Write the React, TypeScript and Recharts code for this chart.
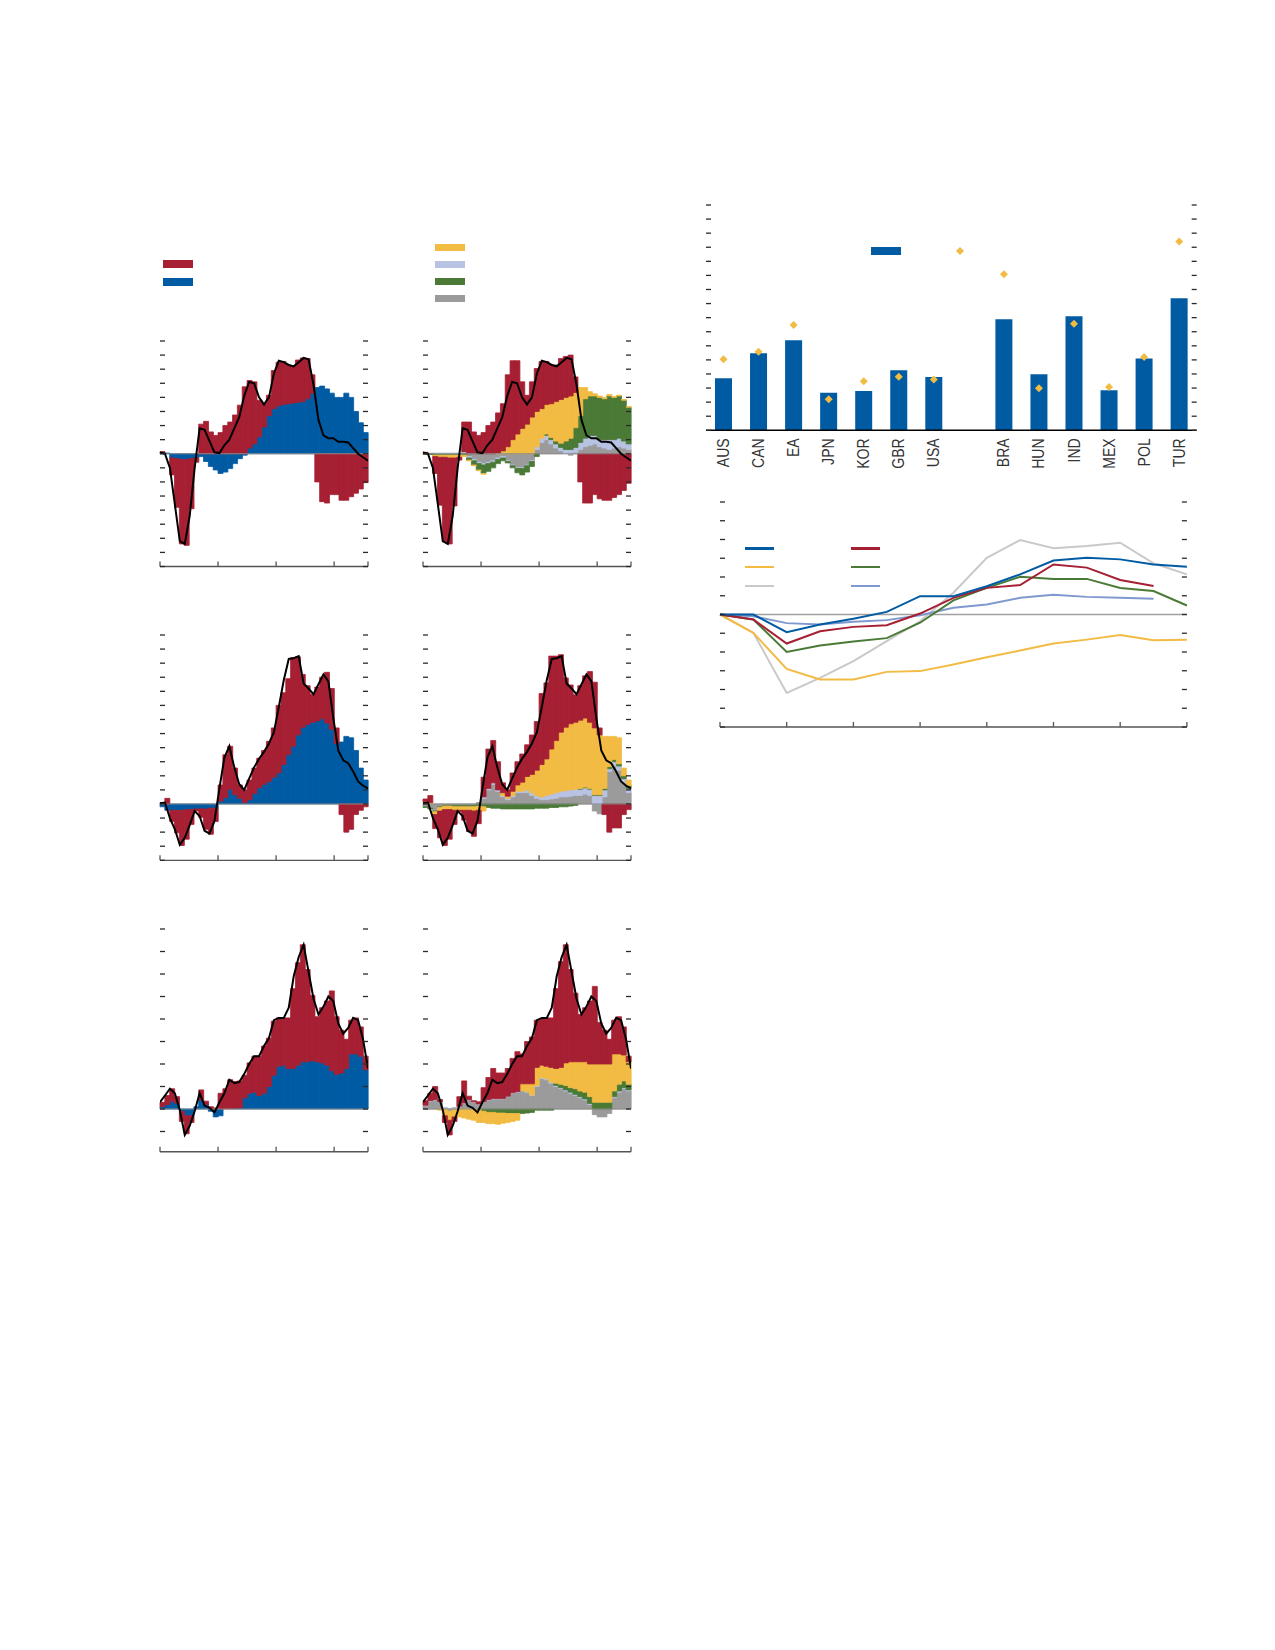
import React from 'react';
import { ComposedChart, LineChart, Bar, Line, XAxis, YAxis, ReferenceLine } from 'recharts';

// ---------- colours ----------
const RED = '#A61F32';
const BLUE = '#005BA3';
const YELLOW = '#F2BB43';
const LAV = '#B8C2E2';
const GREEN = '#4A7A36';
const GRAY = '#9B9B9B';
const LGRAY = '#C9C9C9';
const LBLUE = '#7F98CE';

// ---------- small multiples: monthly contributions (43 months) ----------
const YEAR_BOUNDARIES = [0, 12, 24, 36, 43]; // month boundaries where the x-axis ticks sit
const TICKS_TOP = [-8, -7, -6, -5, -4, -3, -2, -1, 0, 1, 2, 3, 4, 5, 6, 7, 8];
const TICKS_MID = [-4, -3, -2, -1, 0, 1, 2, 3, 4, 5, 6, 7, 8, 9, 10, 11, 12];
const TICKS_BOT = [-1, 0, 1, 2, 3, 4, 5, 6, 7, 8];

// row 1
const A_RED = [0.05, 0.0, -1.2, -3.45, -6.0, -6.1, -3.55, -0.3, 2.1, 2.3, 1.55, 1.3, 1.5, 2.0, 2.25, 2.75, 3.45, 4.75, 4.8, 4.4, 2.6, 1.65, 1.45, 2.7, 3.1, 3.05, 2.75, 2.6, 3.0, 3.1, 2.85, 1.3, -2.0, -3.4, -3.5, -2.9, -2.9, -3.3, -3.3, -3.05, -2.8, -2.5, -2.05];
const A_BLUE = [0.1, 0.05, -0.3, -0.35, -0.4, -0.4, -0.35, -0.3, -0.2, -0.55, -0.9, -1.15, -1.4, -1.3, -1.05, -0.7, -0.35, -0.1, 0.4, 0.7, 1.2, 1.9, 2.7, 3.2, 3.4, 3.5, 3.55, 3.6, 3.65, 3.7, 3.9, 4.3, 4.7, 4.8, 4.6, 4.3, 4.0, 4.0, 4.3, 4.0, 3.0, 2.2, 1.5];
const A_LINE = [0.1, 0.0, -1.0, -3.6, -6.2, -6.4, -4.4, -1.0, 1.8, 1.7, 0.9, 0.1, 0.05, 0.6, 1.0, 1.8, 2.6, 4.1, 5.1, 5.0, 4.0, 3.5, 4.0, 5.7, 6.6, 6.5, 6.3, 6.2, 6.5, 6.8, 6.7, 4.9, 2.4, 1.3, 1.1, 1.1, 0.85, 0.85, 0.8, 0.4, 0.0, -0.25, -0.5];

const B_RED = [0.05, 0.0, -1.2, -3.4, -6.0, -6.1, -3.4, -0.2, 2.1, 2.25, 1.55, 1.3, 1.5, 2.0, 2.25, 2.85, 3.35, 5.1, 5.6, 5.2, 3.3, 2.05, 2.5, 3.05, 3.35, 3.05, 2.75, 2.6, 2.9, 2.9, 2.9, 1.1, -2.0, -3.5, -3.5, -2.9, -3.2, -3.3, -3.3, -3.1, -2.9, -2.6, -2.1];
const B_YELLOW = [0, 0, -0.1, -0.15, -0.15, -0.2, -0.2, -0.15, -0.1, -0.05, -0.05, -0.05, -0.05, 0, 0, 0.05, 0.2, 0.5, 1.0, 1.4, 1.8, 2.1, 2.6, 2.5, 2.1, 2.1, 2.4, 2.8, 3.1, 3.1, 3.0, 2.5, 2.0, 0.8, 0.3, 0.15, 0.1, 0.1, 0.1, 0.05, 0.05, 0.05, 0.05];
const B_LAV = [0.05, 0.05, 0.05, 0.05, 0.05, 0.05, 0.05, 0.05, 0.05, -0.1, -0.1, -0.1, -0.1, -0.1, -0.1, -0.1, -0.1, -0.05, -0.05, -0.05, -0.05, -0.05, -0.05, 0.2, 0.3, 0.3, 0.3, 0.3, 0.25, 0.3, 0.3, 0.35, 0.5, 0.6, 0.7, 0.6, 0.5, 0.6, 0.7, 0.6, 0.6, 0.5, 0.4];
const B_GREEN = [-0.05, -0.05, -0.05, -0.05, -0.05, -0.05, -0.05, -0.05, -0.1, -0.15, -0.3, -0.45, -0.6, -0.55, -0.4, -0.3, -0.2, -0.1, -0.15, -0.3, -0.45, -0.45, -0.35, -0.2, 0.0, 0.1, 0.15, 0.2, 0.3, 0.6, 0.8, 1.4, 1.9, 2.8, 2.8, 2.8, 3.0, 2.9, 3.1, 3.0, 3.0, 2.9, 2.6];
const B_GRAY = [0, 0, -0.05, -0.05, -0.05, -0.05, -0.05, -0.05, 0.1, -0.2, -0.4, -0.6, -0.7, -0.6, -0.5, -0.3, -0.2, -0.5, -0.8, -1.0, -1.0, -0.8, -0.5, 0.3, 0.8, 1.0, 0.7, 0.4, 0.2, 0.0, -0.1, 0.1, 0.3, 0.5, 0.6, 0.7, 0.5, 0.4, 0.3, 0.4, 0.5, 0.4, 0.3];

// row 2
const C_RED = [0.1, 0.4, -0.8, -1.6, -2.5, -2.1, -1.05, -0.15, -0.6, -1.45, -1.85, -0.95, 1.15, 3.05, 3.05, 1.9, 0.95, 0.9, 1.4, 1.8, 2.1, 2.4, 2.85, 3.5, 4.8, 5.1, 5.4, 6.3, 5.55, 3.75, 2.75, 2.0, 2.4, 2.95, 3.6, 2.9, 1.1, -0.75, -2.0, -1.8, -0.75, -0.45, -0.2];
const C_BLUE = [-0.2, -0.45, -0.45, -0.45, -0.45, -0.4, -0.4, -0.35, -0.35, -0.35, -0.3, -0.3, 0.2, 0.45, 1.05, 0.65, 0.4, 0.1, 0.3, 0.75, 1.15, 1.4, 1.6, 1.9, 2.2, 2.8, 3.5, 4.1, 4.9, 5.45, 5.65, 5.8, 5.9, 6.05, 5.75, 5.3, 4.3, 4.4, 4.8, 4.7, 3.8, 2.55, 1.7];
const C_LINE = [0.05, 0.1, -1.0, -1.8, -2.9, -2.4, -1.5, -0.5, -0.85, -1.9, -2.1, -1.2, 1.1, 3.3, 4.1, 2.6, 1.4, 1.0, 1.8, 2.6, 3.2, 3.7, 4.3, 5.1, 6.9, 8.8, 10.3, 10.35, 10.5, 8.55, 8.2, 7.8, 8.5, 9.2, 8.7, 6.1, 3.8, 3.1, 2.9, 2.3, 1.6, 1.3, 1.1];

const D_RED = [0.2, 0.5, -1.0, -1.9, -2.55, -2.1, -1.0, -0.1, -0.7, -1.5, -1.8, -0.95, 1.4, 2.8, 3.0, 2.0, 0.7, 0.45, 1.3, 1.65, 2.0, 2.25, 2.8, 3.45, 5.05, 5.4, 6.6, 6.0, 5.5, 3.5, 2.75, 1.95, 2.45, 3.0, 3.6, 3.25, 0.5, -0.75, -2.0, -1.7, -1.7, -0.75, -0.4];
const D_YELLOW = [0.15, 0.1, -0.2, -0.25, -0.25, -0.25, -0.25, -0.25, -0.25, -0.25, -0.3, -0.3, -0.3, 0.0, 0.0, 0.0, 0.2, 0.15, 0.3, 0.45, 0.65, 0.95, 1.3, 1.8, 2.3, 2.6, 3.2, 3.7, 4.2, 4.5, 4.7, 4.75, 4.85, 4.9, 4.7, 4.75, 4.25, 3.7, 2.15, 1.65, 1.85, 0.55, 0.4];
const D_LAV = [0, 0, 0, 0, 0, 0, 0, 0, 0, 0, 0, 0, 0.1, 0.1, 0.1, 0.1, 0.1, 0.1, 0.1, 0.1, 0.1, 0.2, 0.2, 0.2, 0.2, 0.3, 0.35, 0.4, 0.4, 0.45, 0.45, 0.45, 0.45, 0.45, 0.45, 0.6, 0.6, 0.5, 0.2, 0.3, 0.3, 0.3, 0.3];
const D_GREEN = [-0.05, -0.05, -0.05, -0.05, -0.05, -0.05, -0.1, -0.1, -0.1, -0.1, -0.1, -0.15, -0.2, -0.25, -0.3, -0.3, -0.35, -0.35, -0.35, -0.35, -0.35, -0.35, -0.35, -0.3, -0.3, -0.3, -0.25, -0.25, -0.2, -0.2, -0.15, -0.1, 0.05, 0.05, 0.05, 0.05, 0.05, 0.1, 0.15, 0.15, 0.15, 0.2, 0.2];
const D_GRAY = [-0.2, -0.3, -0.5, -0.2, -0.1, -0.1, -0.1, -0.1, -0.1, -0.1, -0.1, 0.1, 0.4, 1.0, 1.4, 0.9, 0.5, 0.3, 0.5, 0.8, 0.8, 0.8, 0.6, 0.4, 0.3, 0.3, 0.35, 0.4, 0.5, 0.5, 0.55, 0.6, 0.6, 0.7, 0.6, -0.5, -0.7, 0.5, 2.3, 2.7, 2.4, 1.5, 0.8];

// row 3
const E_RED = [0.2, 0.4, 0.55, 0.3, -0.45, -0.8, -0.3, 0.0, 0.45, 0.15, 0.1, 0.05, 0.7, 0.9, 1.3, 1.2, 1.2, 1.0, 1.35, 1.6, 1.75, 2.1, 2.15, 2.4, 2.15, 2.1, 2.25, 3.55, 4.55, 5.2, 4.1, 2.9, 2.0, 2.45, 2.85, 3.55, 2.55, 1.9, 1.3, 1.5, 1.6, 1.3, 0.6];
const E_BLUE = [0.1, 0.2, 0.35, 0.25, -0.1, -0.3, -0.3, 0.1, 0.4, 0.2, -0.1, -0.35, -0.3, 0.0, 0.0, 0.02, 0.05, 0.5, 0.7, 0.75, 0.6, 0.7, 1.0, 1.5, 1.9, 1.95, 1.8, 1.8, 1.95, 2.1, 2.1, 2.15, 2.1, 2.05, 1.95, 1.7, 1.55, 1.6, 1.8, 2.45, 2.45, 2.35, 1.75];
const E_LINE = [0.3, 0.6, 0.9, 0.7, -0.05, -1.15, -0.75, -0.1, 0.7, 0.15, 0.05, -0.15, 0.3, 0.7, 1.3, 1.15, 1.2, 1.55, 2.0, 2.35, 2.35, 2.8, 3.15, 3.95, 4.05, 4.05, 4.5, 5.9, 6.75, 7.3, 6.1, 4.9, 4.2, 4.55, 5.0, 4.8, 3.8, 3.35, 3.6, 4.05, 3.95, 3.1, 1.8];

const F_RED = [0.2, 0.33, 0.58, 0.1, -0.3, -0.65, -0.2, 0.43, 0.98, 0.15, 0.05, 0.1, 0.63, 0.98, 1.33, 1.13, 1.13, 1.23, 1.53, 1.78, 1.33, 1.88, 2.08, 2.1, 2.05, 2.15, 2.2, 3.55, 4.7, 5.25, 4.1, 3.05, 2.1, 2.4, 2.8, 3.45, 1.85, 1.5, 1.1, 1.5, 1.65, 1.25, 0.25];
const F_YELLOW = [0, 0, 0, -0.05, -0.3, -0.4, -0.35, -0.35, -0.4, -0.45, -0.5, -0.55, -0.5, -0.5, -0.5, -0.5, -0.45, -0.4, -0.35, -0.3, 0.3, 0.35, 0.5, 0.8, 0.55, 0.55, 0.65, 0.65, 0.75, 1.0, 1.15, 1.2, 1.3, 1.35, 1.45, 1.7, 1.7, 1.7, 1.7, 1.65, 1.35, 1.15, 1.0];
const F_LAV = [0.02, 0.02, 0.02, 0.02, 0.02, 0.02, 0.02, 0.02, 0.02, 0.02, 0.02, 0.02, 0.02, 0.02, 0.02, 0.02, 0.02, 0.02, 0.02, 0.02, 0.02, 0.02, 0.02, 0.05, 0.05, 0.05, 0.05, 0.05, 0.05, 0.05, 0.05, 0.05, 0.05, 0.05, 0.05, 0, 0, 0, 0, 0.05, 0.05, 0.05, 0.05];
const F_GREEN = [0, 0, 0, 0, 0, 0, 0, 0, 0, 0, 0, -0.05, -0.1, -0.15, -0.15, -0.18, -0.18, -0.2, -0.2, -0.2, -0.2, -0.18, -0.15, -0.05, -0.05, -0.05, -0.05, 0.1, 0.15, 0.2, 0.2, 0.25, 0.25, 0.3, 0.3, 0.3, 0.3, 0.3, 0.3, 0.25, 0.3, 0.3, 0.25];
const F_GRAY = [0.15, 0.35, 0.4, 0.3, 0.05, -0.1, 0.05, 0.1, 0.25, 0.4, 0.3, 0.2, 0.3, 0.4, 0.45, 0.45, 0.45, 0.55, 0.7, 0.75, 0.8, 0.75, 0.6, 1.0, 1.35, 1.3, 1.15, 1.0, 0.9, 0.8, 0.7, 0.6, 0.5, 0.4, 0.2, -0.25, -0.35, -0.35, -0.2, 0.5, 0.75, 0.9, 0.8];

// ---------- top right: bars + diamonds ----------
const COUNTRIES = ['AUS', 'CAN', 'EA', 'JPN', 'KOR', 'GBR', 'USA', '', 'BRA', 'HUN', 'IND', 'MEX', 'POL', 'TUR'];
const BAR_VALUES = [3.69, 5.47, 6.39, 2.67, 2.79, 4.26, 3.79, null, 7.88, 3.98, 8.1, 2.84, 5.09, 9.37];
const DIAMOND_VALUES = [5.04, 5.58, 7.48, 2.2, 3.48, 3.81, 3.6, null, 11.08, 2.98, 7.57, 3.08, 5.2, 13.4];
const BAR_TICKS = [0, 1, 2, 3, 4, 5, 6, 7, 8, 9, 10, 11, 12, 13, 14, 15, 16];

// ---------- lower right: lines ----------
const LC_X = [0, 1, 2, 3, 4, 5, 6, 7, 8, 9, 10, 11, 12, 13, 14];
const LC_XTICKS = [0, 2, 4, 6, 8, 10, 12, 14];
const LC_YTICKS = [-6, -5, -4, -3, -2, -1, 0, 1, 2, 3, 4, 5, 6];
const LC_BLUE = [0, 0, -0.94, -0.53, -0.23, 0.14, 0.98, 0.98, 1.51, 2.14, 2.88, 3.03, 2.94, 2.67, 2.55];
const LC_RED = [0, -0.27, -1.55, -0.89, -0.66, -0.57, 0.05, 0.89, 1.42, 1.57, 2.67, 2.5, 1.84, 1.52, null];
const LC_YELLOW = [0, -0.98, -2.9, -3.47, -3.47, -3.06, -3.02, -2.67, -2.28, -1.92, -1.55, -1.34, -1.1, -1.37, -1.35];
const LC_GRAY = [0, -0.98, -4.18, -3.38, -2.49, -1.42, -0.36, 1.16, 3.02, 3.97, 3.53, 3.65, 3.83, 2.73, 2.14];
const LC_GREEN = [0, -0.27, -2.0, -1.65, -1.44, -1.26, -0.44, 0.75, 1.42, 2.01, 1.9, 1.9, 1.41, 1.25, 0.48];
const LC_LBLUE = [0, -0.09, -0.46, -0.53, -0.39, -0.3, -0.04, 0.36, 0.53, 0.89, 1.05, 0.94, 0.89, 0.84, null];

type Series = { key: string; color: string; values: number[] };

const M = 6;
const TICK_STROKE = { stroke: '#2a2a2a', strokeWidth: 1.3 };
const X_LINE = { stroke: '#555', strokeWidth: 1.3 };
const NoLabel = () => <g />;

function Panel(props: {
  left: number; top: number; width: number; height: number;
  domain: [number, number]; ticks: number[]; series: Series[]; line: number[];
}) {
  const { left, top, width, height, domain, ticks, series, line } = props;
  const n = line.length;
  // the line axis runs from the first to the last month across the full width,
  // so month boundaries are re-expressed in that axis' units
  const xTicks = YEAR_BOUNDARIES.map((b) => (b * (n - 1)) / n);
  const data = line.map((v, i) => {
    const row: any = { idx: i, line: v };
    series.forEach((s) => { row[s.key] = s.values[i]; });
    return row;
  });
  return (
    <div style={{ position: 'absolute', left: left - M, top: top - M }}>
      <ComposedChart
        width={width + 2 * M}
        height={height + 2 * M}
        data={data}
        margin={{ top: M, right: M, bottom: M, left: M }}
        stackOffset="sign"
        barCategoryGap={0}
        barGap={0}
      >
        <XAxis xAxisId="cat" hide />
        <XAxis
          xAxisId="ln" dataKey="idx" type="number" domain={[0, n - 1]} ticks={xTicks} allowDataOverflow interval={0}
          mirror height={1} tick={<NoLabel />} tickSize={5} axisLine={X_LINE} tickLine={X_LINE}
        />
        <YAxis
          yAxisId="l" domain={domain} ticks={ticks} allowDataOverflow mirror width={1} interval={0}
          tick={<NoLabel />} tickSize={5} axisLine={false} tickLine={TICK_STROKE}
        />
        <YAxis
          yAxisId="r" orientation="right" domain={domain} ticks={ticks} allowDataOverflow mirror width={1} interval={0}
          tick={<NoLabel />} tickSize={5} axisLine={false} tickLine={TICK_STROKE}
        />
        {series.map((s) => (
          <Bar key={s.key} xAxisId="cat" yAxisId="l" dataKey={s.key} stackId="s" fill={s.color}
            stroke={s.color} strokeWidth={0.8} isAnimationActive={false} />
        ))}
        <ReferenceLine xAxisId="ln" yAxisId="l" y={0} stroke="#8a8a8a" strokeWidth={1} />
        <Line xAxisId="ln" yAxisId="l" dataKey="line" stroke="#000" strokeWidth={2} dot={false} isAnimationActive={false} />
      </ComposedChart>
    </div>
  );
}

const Swatch = (p: { x: number; y: number; w: number; h: number; c: string }) => (
  <div style={{ position: 'absolute', left: p.x, top: p.y, width: p.w, height: p.h, background: p.c }} />
);

const CatTick = (props: any) => {
  const { x, y, payload } = props;
  if (!payload || !payload.value) return <g />;
  return (
    <text
      transform={`translate(${x + 5.5},${y + 8}) rotate(-90) scale(0.88,1.05)`}
      textAnchor="end"
      fontSize={16}
      fill="#333"
      fontFamily="'Liberation Sans Narrow','Arial Narrow','Liberation Sans',Arial,sans-serif"
    >
      {payload.value}
    </text>
  );
};

const Diamond = (props: any) => {
  const { cx, cy, value } = props;
  if (value == null || cx == null || cy == null || isNaN(cy)) return <g key={props.index} />;
  const r = 4;
  return (
    <polygon
      key={props.index}
      points={`${cx},${cy - r} ${cx + r},${cy} ${cx},${cy + r} ${cx - r},${cy}`}
      fill={YELLOW}
    />
  );
};

function BarPanel() {
  const data = COUNTRIES.map((c, i) => ({ name: c, bar: BAR_VALUES[i], dia: DIAMOND_VALUES[i] }));
  const left = 706, top = 205, width = 490.7, height = 225.3, labelH = 45;
  return (
    <div style={{ position: 'absolute', left: left - M, top: top - M }}>
      <ComposedChart
        width={width + 2 * M}
        height={height + M + labelH}
        data={data}
        margin={{ top: M, right: M, bottom: 0, left: M }}
        barCategoryGap={0}
      >
        <XAxis
          dataKey="name" interval={0} height={labelH} tickLine={false} tickSize={0} tickMargin={0}
          axisLine={{ stroke: '#000', strokeWidth: 1.5 }} tick={<CatTick />}
        />
        <YAxis domain={[0, 16]} ticks={BAR_TICKS} allowDataOverflow mirror width={1} interval={0} tick={<NoLabel />} tickSize={5} axisLine={false} tickLine={TICK_STROKE} />
        <YAxis yAxisId="r" orientation="right" domain={[0, 16]} ticks={BAR_TICKS} allowDataOverflow mirror width={1} interval={0} tick={<NoLabel />} tickSize={5} axisLine={false} tickLine={TICK_STROKE} />
        <Bar dataKey="bar" fill={BLUE} barSize={17} isAnimationActive={false} />
        <Line dataKey="dia" stroke="none" dot={<Diamond />} activeDot={false} isAnimationActive={false} />
      </ComposedChart>
    </div>
  );
}

function LinePanel() {
  const data = LC_X.map((x, i) => ({
    x, blue: LC_BLUE[i], red: LC_RED[i], yellow: LC_YELLOW[i], gray: LC_GRAY[i], green: LC_GREEN[i], lblue: LC_LBLUE[i],
  }));
  const left = 719.8, top = 502.3, width = 466.9, height = 225;
  const lines: [string, string][] = [['gray', LGRAY], ['yellow', YELLOW], ['lblue', LBLUE], ['green', GREEN], ['red', RED], ['blue', BLUE]];
  return (
    <div style={{ position: 'absolute', left: left - M, top: top - M }}>
      <LineChart width={width + 2 * M} height={height + 2 * M} data={data} margin={{ top: M, right: M, bottom: M, left: M }}>
        <XAxis
          dataKey="x" type="number" domain={[0, 14]} ticks={LC_XTICKS} interval={0} mirror height={1} tick={<NoLabel />} tickSize={5}
          axisLine={X_LINE} tickLine={X_LINE}
        />
        <YAxis domain={[-6, 6]} ticks={LC_YTICKS} allowDataOverflow mirror width={1} interval={0} tick={<NoLabel />} tickSize={5} axisLine={false} tickLine={TICK_STROKE} />
        <YAxis yAxisId="r" orientation="right" domain={[-6, 6]} ticks={LC_YTICKS} allowDataOverflow mirror width={1} interval={0} tick={<NoLabel />} tickSize={5} axisLine={false} tickLine={TICK_STROKE} />
        <ReferenceLine y={0} stroke="#a0a0a0" strokeWidth={1.5} />
        {lines.map(([k, c]) => (
          <Line key={k} dataKey={k} stroke={c} strokeWidth={2} dot={false} isAnimationActive={false} />
        ))}
      </LineChart>
    </div>
  );
}

export default function App() {
  const two = (red: number[], blue: number[]): Series[] => [
    { key: 'blue', color: BLUE, values: blue },
    { key: 'red', color: RED, values: red },
  ];
  const five = (red: number[], yellow: number[], green: number[], lav: number[], gray: number[]): Series[] => [
    { key: 'gray', color: GRAY, values: gray },
    { key: 'lav', color: LAV, values: lav },
    { key: 'green', color: GREEN, values: green },
    { key: 'yellow', color: YELLOW, values: yellow },
    { key: 'red', color: RED, values: red },
  ];
  return (
    <div style={{ position: 'absolute', left: 0, top: 0, width: 1275, height: 1650, background: '#fff', fontFamily: 'Arial, sans-serif' }}>
      {/* legends for small multiples */}
      <Swatch x={162.7} y={260} w={30} h={7.7} c={RED} />
      <Swatch x={162.7} y={278.3} w={30} h={7.4} c={BLUE} />
      <Swatch x={435} y={244} w={30} h={7} c={YELLOW} />
      <Swatch x={435} y={261} w={30} h={7} c={LAV} />
      <Swatch x={435} y={278.3} w={30} h={7} c={GREEN} />
      <Swatch x={435} y={295.3} w={30} h={7} c={GRAY} />

      <Panel left={159.5} top={341} width={208} height={225.5} domain={[-8, 8]} ticks={TICKS_TOP} series={two(A_RED, A_BLUE)} line={A_LINE} />
      <Panel left={422.5} top={341} width={208} height={225.5} domain={[-8, 8]} ticks={TICKS_TOP} series={five(B_RED, B_YELLOW, B_GREEN, B_LAV, B_GRAY)} line={A_LINE} />
      <Panel left={159.5} top={635} width={208} height={225.3} domain={[-4, 12]} ticks={TICKS_MID} series={two(C_RED, C_BLUE)} line={C_LINE} />
      <Panel left={422.5} top={635} width={208} height={225.3} domain={[-4, 12]} ticks={TICKS_MID} series={five(D_RED, D_YELLOW, D_GREEN, D_LAV, D_GRAY)} line={C_LINE} />
      <Panel left={159.5} top={929.3} width={208} height={222.75} domain={[-1.9, 8]} ticks={TICKS_BOT} series={two(E_RED, E_BLUE)} line={E_LINE} />
      <Panel left={422.5} top={929.3} width={208} height={222.75} domain={[-1.9, 8]} ticks={TICKS_BOT} series={five(F_RED, F_YELLOW, F_GREEN, F_LAV, F_GRAY)} line={E_LINE} />

      {/* top right chart */}
      <BarPanel />
      <Swatch x={871} y={247.3} w={30} h={7.7} c={BLUE} />
      <svg style={{ position: 'absolute', left: 952, top: 243 }} width={16} height={16}>
        <polygon points="8,4 12,8 8,12 4,8" fill={YELLOW} />
      </svg>

      {/* lower right chart */}
      <LinePanel />
      <Swatch x={745} y={547.2} w={29} h={2.4} c={BLUE} />
      <Swatch x={745} y={565.9} w={29} h={2.4} c={YELLOW} />
      <Swatch x={745} y={584.6} w={29} h={2.4} c={LGRAY} />
      <Swatch x={850.7} y={547.2} w={29} h={2.4} c={RED} />
      <Swatch x={850.7} y={565.9} w={29} h={2.4} c={GREEN} />
      <Swatch x={850.7} y={584.6} w={29} h={2.4} c={LBLUE} />
    </div>
  );
}
